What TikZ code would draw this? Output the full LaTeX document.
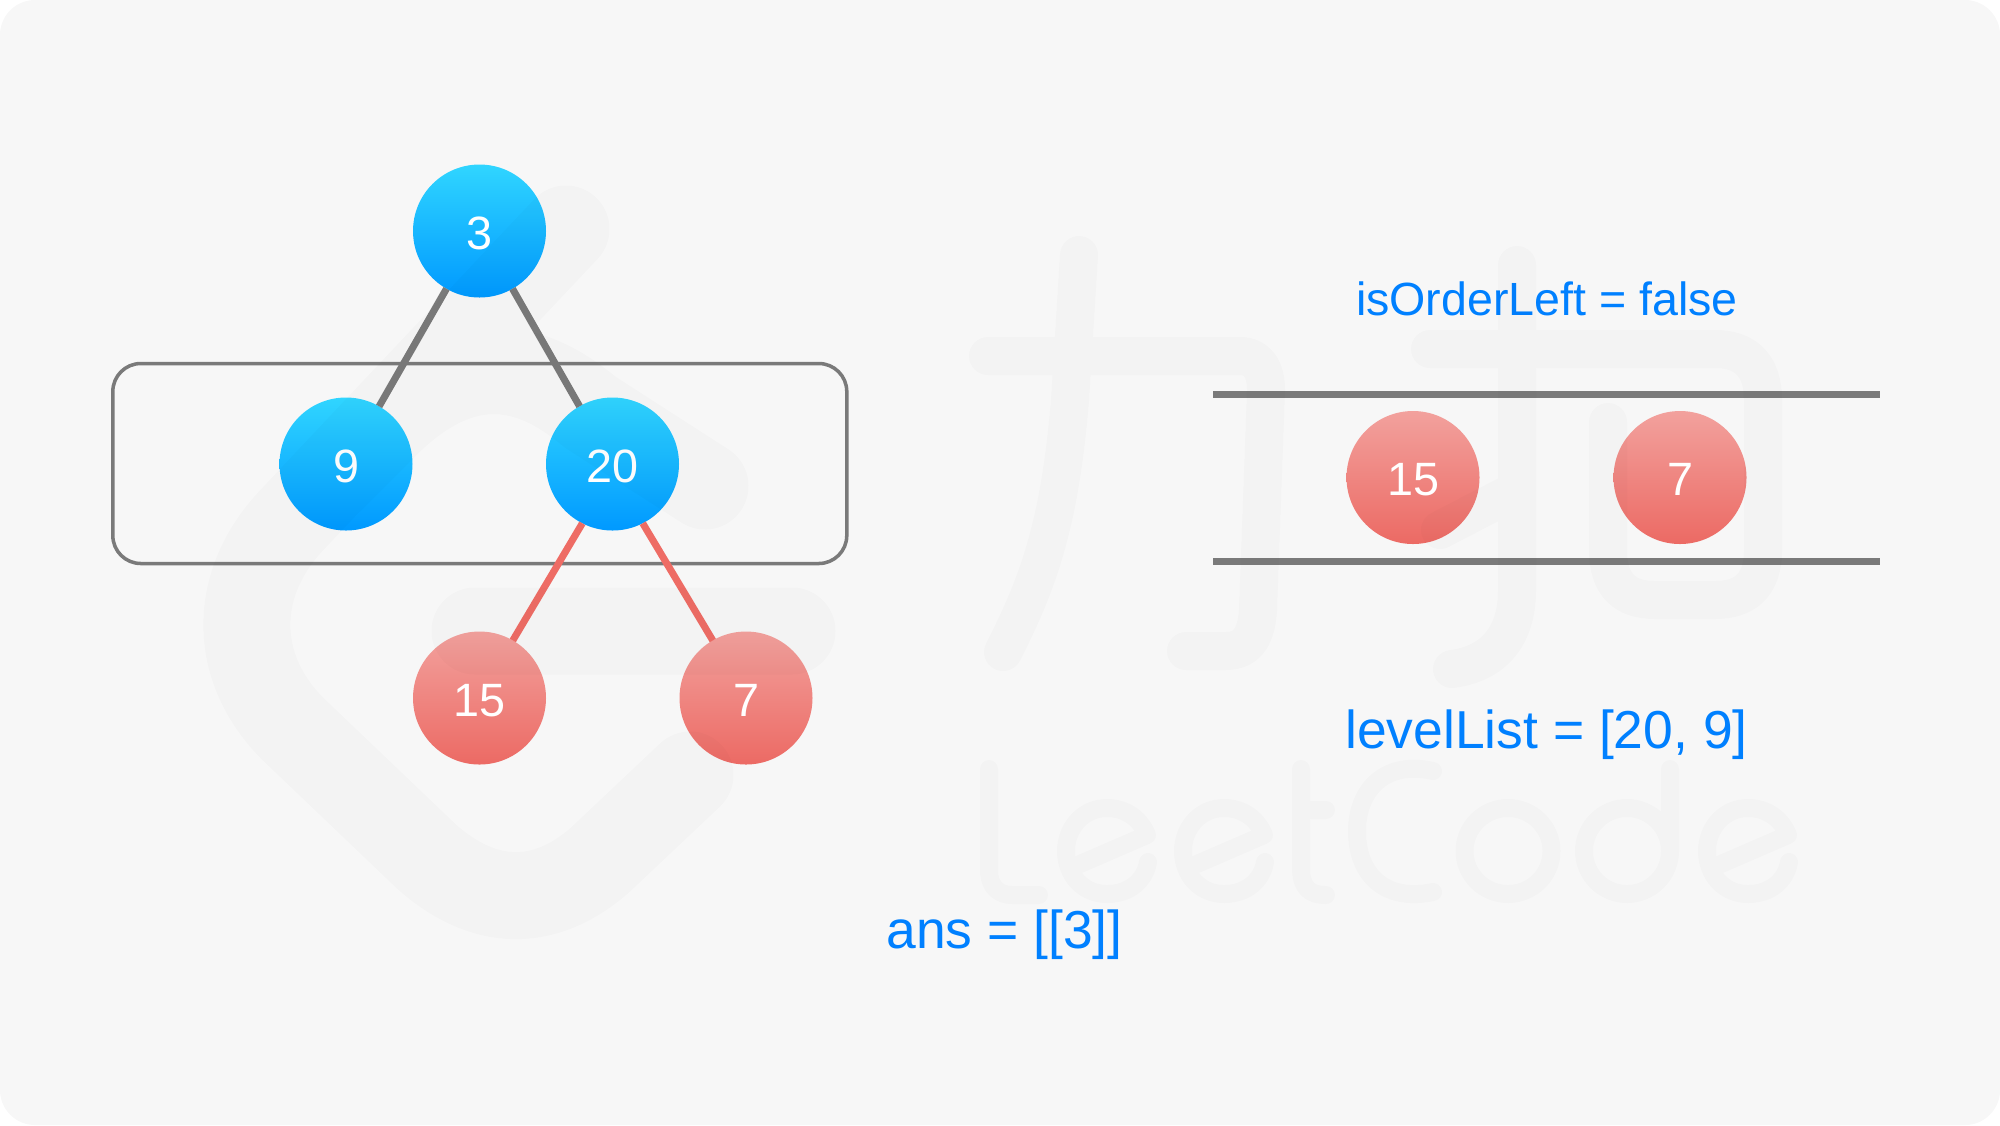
\documentclass[tikz,border=0pt]{standalone}
\usepackage{fontspec}
\setmainfont{Liberation Sans}
\definecolor{pagegray}{HTML}{F7F7F7}
\definecolor{linegray}{HTML}{7A7A7A}
\definecolor{edgered}{HTML}{EE6C65}
\definecolor{labelblue}{HTML}{0080FF}
\definecolor{bluetop}{HTML}{30D5FF}
\definecolor{bluebottom}{HTML}{0099FF}
\definecolor{redtop}{HTML}{F2A19D}
\definecolor{redbottom}{HTML}{EC6A64}
\begin{document}
\begin{tikzpicture}[scale=0.1]
          \tikzstyle{every node}+=[inner sep=0pt, outer sep=0pt]
          \tikzstyle{treenode}=[circle, minimum size=1.33cm, text=white, text height=10.4pt, font=\fontsize{13.3}{16}\selectfont]
          \tikzstyle{bluenode}=[treenode, top color=bluetop, bottom color=bluebottom]
          \tikzstyle{rednode}=[treenode, top color=redtop, bottom color=redbottom]
          \tikzstyle{grayedge}=[draw=linegray, line width=2pt]
          \tikzstyle{rededge}=[draw=edgered, line width=2pt]
          \tikzstyle{levelbox}=[draw=linegray, line width=1pt, rounded corners=0.28cm, minimum width=7.34cm, minimum height=2cm]
          \tikzstyle{listline}=[draw=linegray, line width=2pt]
          \tikzstyle{smalltext}=[text=labelblue, anchor=base, font=\fontsize{13.25}{16}\selectfont]
          \tikzstyle{bigtext}=[text=labelblue, anchor=base, font=\fontsize{15.2}{18}\selectfont]
          \tikzstyle{watermark}=[draw=black, opacity=0.016, line cap=round, line join=round]
          \useasboundingbox (0,-112.5) rectangle (200,0);
          \fill [pagegray, rounded corners=0.35cm] (0,-112.5) rectangle (200,0);
          % level being read
          \node [levelbox] (level) at (47.98,-46.35) {};
          % tree
          \node [bluenode] (n3) at (47.95,-23.1) {3};
          \node [bluenode] (n9) at (34.6,-46.4) {9};
          \node [bluenode] (n20) at (61.25,-46.4) {20};
          \node [rednode] (n15) at (47.95,-69.8) {15};
          \node [rednode] (n7) at (74.6,-69.8) {7};
          \draw [grayedge] (n3) -- (n9);
          \draw [grayedge] (n3) -- (n20);
          \draw [rededge] (n20.243) -- (n15.60);
          \draw [rededge] (n20.297) -- (n7.120);
          % queue
          \coordinate (topleft) at (121.3,-39.45);
          \coordinate (topright) at (188,-39.45);
          \coordinate (botleft) at (121.3,-56.15);
          \coordinate (botright) at (188,-56.15);
          \draw [listline] (topleft) -- (topright);
          \draw [listline] (botleft) -- (botright);
          \node [rednode] (list15) at (141.3,-47.75) {15};
          \node [rednode] (list7) at (168,-47.75) {7};
          % texts
          \node [smalltext] (flag) at (154.7,-31.5) {isOrderLeft = false};
          \node [bigtext] (levellist) at (154.65,-74.8) {levelList = [20, 9]};
          \node [bigtext] (ans) at (100.45,-94.8) {ans = [[3]]};
          % logo
          \draw [watermark, line width=0.87cm] (56.6,-22.9) -- (29,-52.2) .. controls (23.2,-58.5) and (23.2,-66.8) .. (29.3,-72.9)
            -- (42.7,-85.7) .. controls (48.5,-90.8) and (54.5,-90.8) .. (60,-86) -- (69,-77.5)
            (70.5,-48.6) -- (59,-41.2) .. controls (54,-37) and (47,-34) .. (38.5,-42.5) -- (33,-48)
            (47.5,-63.1) -- (79.2,-63.1);
          % chinese strokes
          \draw [watermark, line width=0.38cm] (98.8,-35.6) -- (124,-35.6) .. controls (125.8,-35.6) and (126.6,-37) .. (126.6,-39)
            -- (125.8,-61) .. controls (125.6,-64) and (124.5,-65.1) .. (122.5,-65.1) -- (118.6,-65.1)
            (107.9,-25.5) -- (107,-40) .. controls (106,-52) and (104,-58) .. (100.3,-65.2)
            (151.7,-26.5) -- (151.7,-59) .. controls (151.7,-64) and (149,-66.4) .. (145.2,-66.9)
            (144,-53) -- (151.7,-49)
            (143,-34.9) -- (171.5,-34.9) .. controls (174.5,-34.9) and (176.3,-36.5) .. (176.3,-40) -- (176.3,-55)
            .. controls (176.3,-58.5) and (174.5,-60) .. (171.5,-60) -- (165.5,-60)
            .. controls (162.5,-60) and (160.8,-58.5) .. (160.8,-55) -- (160.8,-42.2);
          % word
          \draw [watermark, line width=0.18cm] (98.9,-76.9) -- (98.9,-87) .. controls (98.9,-88.8) and (100,-89.5) .. (101.2,-89.5) -- (103.9,-89.5)
            (108,-86.4) -- (114.7,-83.5) .. controls (114,-81.8) and (112.5,-80.8) .. (110.7,-80.8)
            .. controls (108.3,-80.8) and (106.6,-82.8) .. (106.6,-85.1) .. controls (106.6,-87.5) and (108.3,-89.4) .. (110.7,-89.4)
            .. controls (113,-89.4) and (114.5,-88) .. (114.8,-86.2)
            (119.7,-86.4) -- (126.4,-83.5) .. controls (125.7,-81.8) and (124.2,-80.8) .. (122.4,-80.8)
            .. controls (120,-80.8) and (118.3,-82.8) .. (118.3,-85.1) .. controls (118.3,-87.5) and (120,-89.4) .. (122.4,-89.4)
            .. controls (124.7,-89.4) and (126.2,-88) .. (126.5,-86.2)
            (172.1,-86.4) -- (178.8,-83.5) .. controls (178.1,-81.8) and (176.6,-80.8) .. (174.8,-80.8)
            .. controls (172.4,-80.8) and (170.7,-82.8) .. (170.7,-85.1) .. controls (170.7,-87.5) and (172.4,-89.4) .. (174.8,-89.4)
            .. controls (177.1,-89.4) and (178.6,-88) .. (178.9,-86.2)
            (130.1,-76.9) -- (130.1,-86.8) .. controls (130.1,-88.8) and (131,-89.5) .. (132.6,-89.5)
            (130.1,-81) -- (132.6,-81)
            (143.3,-77.1) .. controls (138.5,-76) and (135.7,-79) .. (135.7,-83.1) .. controls (135.7,-87.5) and (138.5,-90.2) .. (143.3,-89.2)
            (150.8,-85.1) ellipse (4.35 and 4.3)
            (162.7,-85.1) ellipse (4.3 and 4.3)
            (167,-76.9) -- (167,-85.1);
\end{tikzpicture}
\end{document}
